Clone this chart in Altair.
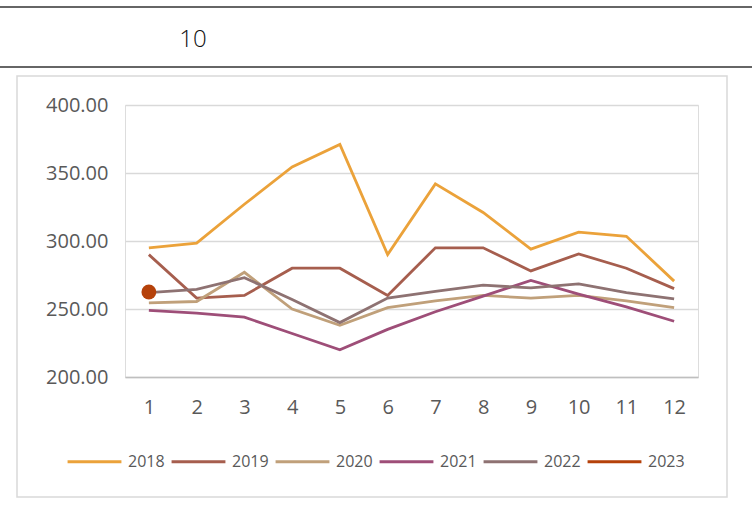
import altair as alt
import pandas as pd

months = list(range(1, 13))
years = ["2018", "2019", "2020", "2021", "2022", "2023"]
v2018 = [295, 298.5, 327, 354.5, 371, 290, 342, 321, 294, 306.5, 303.5, 270.5]
v2019 = [290, 258, 260, 280, 280, 260, 295, 295, 278, 290.5, 280, 265]
v2020 = [254.5, 255.5, 277, 250, 238, 251, 256, 260, 258, 260, 256, 251]
v2021 = [249, 247, 244, 232, 220, 235, 248, 259.5, 271, 261, 251.5, 241]
v2022 = [262, 264.5, 273, 257, 240, 258, 263, 267.5, 265.5, 268.5, 262, 257.5]
v2023 = [262.5]
colors = ["#EBA23A", "#A65E4E", "#C0A07A", "#9E4E78", "#8E7272", "#B5410A"]
title_text = "10"

series = [v2018, v2019, v2020, v2021, v2022, v2023]
rows = []
for y, vals in zip(years, series):
    for m, v in zip(months, vals):
        rows.append({"month": m, "value": v, "year": y})
df = pd.DataFrame(rows)

FONT = "Open Sans"

x = alt.X("month:O", scale=alt.Scale(type="point", padding=0.5),
          axis=alt.Axis(title=None, labelAngle=0, ticks=False, domainColor="#BFBFBF",
                        domainWidth=1.5, labelPadding=20, labelFontSize=20,
                        labelColor="#595959", labelFont=FONT, grid=False))
y = alt.Y("value:Q", scale=alt.Scale(domain=[200, 400], nice=False, zero=False),
          axis=alt.Axis(values=[200, 250, 300, 350, 400], format=".2f", ticks=False,
                        domain=False, labelPadding=17, labelFontSize=20,
                        labelColor="#595959", labelFont=FONT, gridColor="#D9D9D9",
                        gridWidth=1.5, title=None))
color = alt.Color("year:N", scale=alt.Scale(domain=years, range=colors),
                  legend=alt.Legend(orient="none", legendX=-59, legendY=328,
                                    direction="horizontal", columns=6, symbolType="stroke",
                                    symbolSize=2900, symbolStrokeWidth=3, labelFontSize=16,
                                    labelColor="#595959", labelFont=FONT, title=None,
                                    labelOffset=5, columnPadding=0))

base = alt.Chart(df)
lines = base.mark_line(strokeWidth=2.8).encode(x=x, y=y, color=color)
pts = base.transform_filter(alt.datum.year == "2023").mark_point(
    filled=True, size=220, opacity=1).encode(x=x, y=y, color=color)

deco = alt.Data(values=[{"t": title_text}])
box = alt.Chart(deco).mark_rect(fill=None, stroke="#D9D9D9", strokeWidth=1.5).encode(
    x=alt.value(-108), x2=alt.value(602), y=alt.value(-29), y2=alt.value(392))
rule1 = alt.Chart(deco).mark_rule(color="#333333", strokeWidth=1.5).encode(
    x=alt.value(-125), x2=alt.value(627), y=alt.value(-98))
rule2 = alt.Chart(deco).mark_rule(color="#333333", strokeWidth=1.5).encode(
    x=alt.value(-125), x2=alt.value(627), y=alt.value(-38))
title = alt.Chart(deco).mark_text(font=FONT, fontSize=24, fontWeight=300,
                                  color="#111111", align="center", baseline="middle").encode(
    text="t:N", x=alt.value(68), y=alt.value(-65))

chart = alt.layer(box, rule1, rule2, title, lines, pts).properties(
    width=573, height=272,
    autosize=alt.AutoSizeParams(type="none"),
    padding={"left": 125, "top": 105, "right": 54, "bottom": 129},
).configure_view(stroke=None).configure(background="white")

chart.save("out.html", embed_options={"renderer": "svg", "actions": False})
